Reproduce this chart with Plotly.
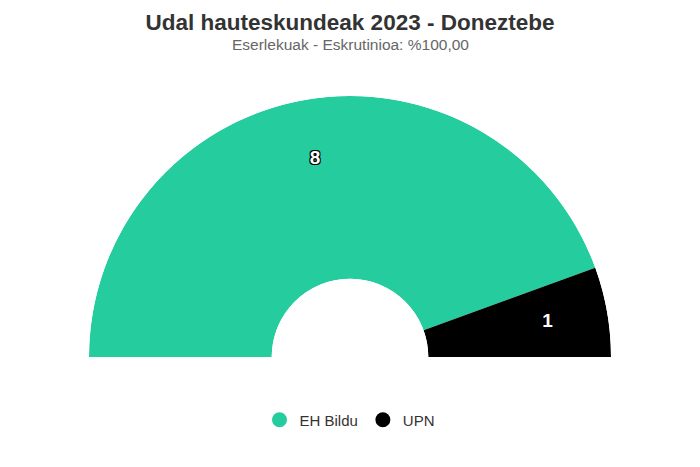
import plotly.graph_objects as go

parties = ["EH Bildu", "UPN"]
seats = [8, 1]
colors = ["#24CC9E", "#000000"]

title = "Udal hauteskundeak 2023 - Doneztebe"
subtitle = "Eserlekuak - Eskrutinioa: %100,00"

total = sum(seats)

fig = go.Figure()

# seats go from left (180 deg) to right (0 deg)
start = 180.0
centers = []
widths = []
for s in seats:
    w = 180.0 * s / total
    centers.append(start - w / 2)
    widths.append(w)
    start -= w

for i, p in enumerate(parties):
    fig.add_trace(go.Barpolar(
        r=[1], theta=[centers[i]], width=[widths[i]],
        marker=dict(color=colors[i], line=dict(width=0)),
        name=p, legendgroup=p, showlegend=False,
        hovertemplate=p + ": %{customdata}<extra></extra>",
        customdata=[seats[i]],
    ))
    # legend entry as round marker
    fig.add_trace(go.Scatterpolar(
        r=[None], theta=[None], mode="markers",
        marker=dict(color=colors[i], size=15, symbol="circle"),
        name=p, legendgroup=p, showlegend=True,
    ))

# labels in the middle of each slice
fig.add_trace(go.Scatterpolar(
    r=[0.67] * len(seats), theta=centers, mode="text",
    text=[str(s) for s in seats],
    textfont=dict(family="Liberation Sans, Arial", size=19, color="white", weight="bold",
                  shadow="-1px -1px 0 #000, 1px -1px 0 #000, -1px 1px 0 #000, 1px 1px 0 #000"),
    showlegend=False, hoverinfo="skip",
))

fig.update_layout(
    width=700, height=467,
    paper_bgcolor="white",
    margin=dict(l=88, r=88, t=96, b=110),
    font=dict(family="Liberation Sans, Arial", color="#333333"),
    title=dict(text="<b>" + title + "</b>", x=0.5, xanchor="center",
               y=1 - 22 / 467, yanchor="middle",
               font=dict(size=22.5, color="#333333")),
    annotations=[dict(text=subtitle, x=0.5, y=(357 - 45) / 261, xref="paper", yref="paper",
                      showarrow=False, font=dict(size=15.5, color="#666666"),
                      xanchor="center", yanchor="middle")],
    polar=dict(
        sector=[0, 180], hole=0.3, bgcolor="white",
        domain=dict(x=[0, 1], y=[0, 1]),
        radialaxis=dict(range=[0, 1], visible=False, showgrid=False),
        angularaxis=dict(visible=False, showgrid=False, direction="counterclockwise", rotation=0),
    ),
    legend=dict(orientation="h", x=0.5, xanchor="center", y=(357 - 420) / 261, yanchor="middle",
                font=dict(size=15, color="#333333"), itemclick=False),
    showlegend=True,
)

fig.write_html("out.html", config={"displayModeBar": False},
               post_script="document.body.style.margin='0px';")
